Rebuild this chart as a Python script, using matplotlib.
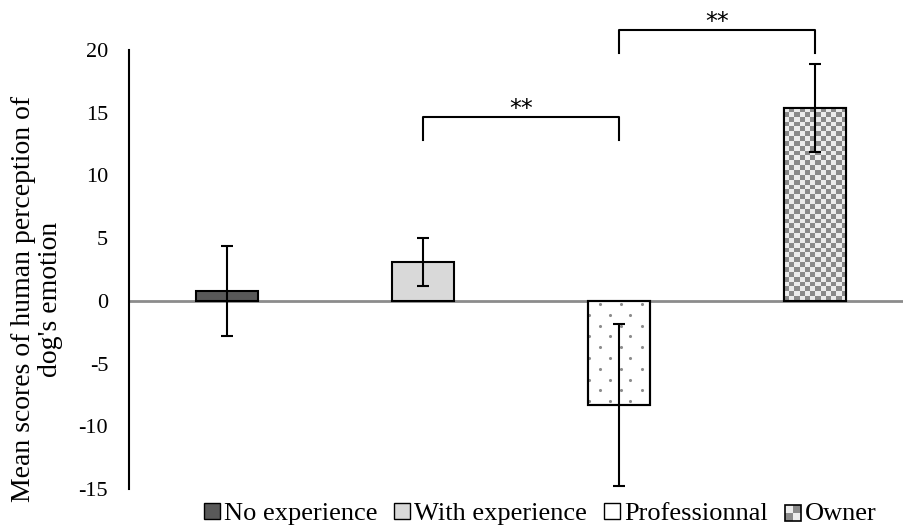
import numpy as np
import matplotlib
matplotlib.use("Agg")
import matplotlib.pyplot as plt
from matplotlib.patches import Patch, Rectangle
from matplotlib.colors import ListedColormap

plt.rcParams['font.family'] = ['Liberation Serif', 'DejaVu Serif']

# Data
groups = ["No experience", "With experience", "Professionnal", "Owner"]
means = [0.8, 3.1, -8.3, 15.4]
errors = [3.6, 1.9, 6.45, 3.5]
y_ticks = [-15, -10, -5, 0, 5, 10, 15, 20]
# significance brackets: (left group, right group, bracket height, tip height)
sig_pairs = [(1, 2, 14.65, 12.8), (2, 3, 21.6, 19.8)]
sig_label = "**"
ylabel = "Mean scores of human perception of\ndog's emotion"

DARK = "#595959"
LIGHT = "#d9d9d9"
DOT = "#8c8c8c"
CHECK = ["#ececec", "#8a8a8a"]

fig = plt.figure(figsize=(9.04, 5.30), dpi=100)
ax = fig.add_axes([129 / 904, 1 - 489 / 530, (913 - 129) / 904, (489 - 50) / 530])

x = np.arange(len(groups))
faces = [DARK, LIGHT, "white", "white"]
bar_w = 0.32

bars = ax.bar(x, means, width=bar_w, color=faces, edgecolor="black",
              linewidth=1.5, zorder=3)

# dotted texture inside the professional bar: staggered rows, three dots per row
pb = bars[2]
px0, pw, ph = pb.get_x(), pb.get_width(), pb.get_height()
row_step = 0.86
sign = -1 if ph < 0 else 1
dx, dy = [], []
for r, yy in enumerate(np.arange(0.25, abs(ph), row_step)):
    start = 0.6 if r % 2 == 0 else 0.05
    for k in range(4):
        dx.append(px0 + pw * (k + start) / 3)
        dy.append(sign * yy)
dots = ax.scatter(dx, dy, s=5, color=DOT, linewidths=0, zorder=3.5)
dots.set_clip_path(pb)

# checkerboard fill for the owner bar, clipped to its rectangle
ob = bars[3]
x0, w, h = ob.get_x(), ob.get_width(), ob.get_height()
ny, nx = 40, 12
board = (np.add.outer(np.arange(ny), np.arange(nx)) % 2).astype(float)
img = ax.imshow(board, cmap=ListedColormap(CHECK), extent=(x0, x0 + w, 0, h),
                aspect="auto", zorder=3.5, interpolation="nearest")
img.set_clip_path(ob)
# redraw the outlines above the fills
for b in (pb, ob):
    ax.add_patch(Rectangle((b.get_x(), 0), b.get_width(), b.get_height(),
                           facecolor="none", edgecolor="black", linewidth=1.5, zorder=3.8))

ax.errorbar(x, means, yerr=errors, fmt="none", ecolor="black",
            elinewidth=1.5, capsize=4.5, capthick=1.5, zorder=4)

ax.axhline(0, color="#8c8c8c", linewidth=2, zorder=1)

ax.set_xlim(-0.5, len(groups) - 0.5)
ax.set_ylim(-15, 20)
ax.set_yticks(y_ticks)
ax.set_yticklabels([str(t) for t in y_ticks], fontsize=16)
ax.tick_params(axis="y", length=0, pad=15)
ax.set_xticks([])
for s in ["top", "right", "bottom"]:
    ax.spines[s].set_visible(False)
ax.spines["left"].set_linewidth(1.5)

for a, b, top, tip in sig_pairs:
    ax.plot([a, a, b, b], [tip, top, top, tip], color="black", linewidth=1.5,
            clip_on=False, zorder=5)
    ax.text((a + b) / 2, top + 0.65, sig_label, ha="center", va="center",
            fontsize=17, family="DejaVu Sans", clip_on=False)

fig.text(0.041, 1 - 299 / 530, ylabel, rotation=90, ha="center", va="center",
         fontsize=20, multialignment="center", linespacing=1.1)


class CheckerHandler:
    """Legend key drawn as a small 2x2 checkerboard."""

    def legend_artist(self, legend, orig_handle, fontsize, handlebox):
        x0, y0 = handlebox.xdescent, handlebox.ydescent
        w, h = handlebox.width, handlebox.height
        for i in range(2):
            for j in range(2):
                c = CHECK[(i + j + 1) % 2]
                handlebox.add_artist(Rectangle((x0 + i * w / 2, y0 + j * h / 2), w / 2, h / 2,
                                               facecolor=c, edgecolor="none",
                                               transform=handlebox.get_transform()))
        frame = Rectangle((x0, y0), w, h, facecolor="none", edgecolor="black",
                          linewidth=1.2, transform=handlebox.get_transform())
        handlebox.add_artist(frame)
        return frame


owner_key = Patch(facecolor="none", edgecolor="black")
handles = [Patch(facecolor=DARK, edgecolor="black"),
           Patch(facecolor=LIGHT, edgecolor="black"),
           Patch(facecolor="white", edgecolor="black"),
           owner_key]
fig.legend(handles, groups, loc="center", bbox_to_anchor=(540 / 904, 1 - 514 / 530),
           ncol=4, frameon=False, fontsize=19, handlelength=0.6, handleheight=0.6,
           handletextpad=0.15, columnspacing=0.65,
           handler_map={owner_key: CheckerHandler()})

fig.savefig("out.png", dpi=100)
